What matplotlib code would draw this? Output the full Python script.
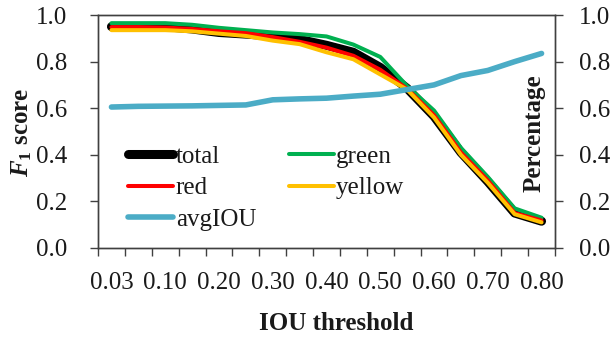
import numpy as np
import matplotlib
matplotlib.use("Agg")
import matplotlib.pyplot as plt

categories = ["0.03", "0.05", "0.10", "0.15", "0.20", "0.25", "0.30", "0.35", "0.40",
              "0.45", "0.50", "0.55", "0.60", "0.65", "0.70", "0.75", "0.80"]
total = [0.950, 0.950, 0.950, 0.940, 0.925, 0.918, 0.910, 0.895, 0.870, 0.840, 0.775,
         0.685, 0.565, 0.410, 0.285, 0.150, 0.115]
green = [0.965, 0.965, 0.965, 0.958, 0.945, 0.935, 0.925, 0.918, 0.908, 0.873, 0.820,
         0.695, 0.590, 0.430, 0.305, 0.170, 0.130]
red = [0.948, 0.948, 0.946, 0.940, 0.930, 0.922, 0.905, 0.885, 0.860, 0.825, 0.765,
       0.683, 0.570, 0.410, 0.290, 0.150, 0.118]
yellow = [0.935, 0.935, 0.935, 0.930, 0.920, 0.910, 0.890, 0.875, 0.840, 0.810, 0.745,
          0.680, 0.560, 0.400, 0.280, 0.145, 0.110]
avgIOU = [0.605, 0.608, 0.609, 0.610, 0.612, 0.614, 0.636, 0.640, 0.643, 0.652, 0.660,
          0.680, 0.700, 0.740, 0.762, 0.800, 0.835]
yticks = [0.0, 0.2, 0.4, 0.6, 0.8, 1.0]

plt.rcParams['font.family'] = ['Liberation Serif', 'DejaVu Serif']
plt.rcParams['mathtext.fontset'] = 'custom'
plt.rcParams['mathtext.it'] = 'Liberation Serif:italic:bold'
plt.rcParams['mathtext.rm'] = 'Liberation Serif:bold'

FS = 18
TXT = '#1a1a1a'
SP = '#404040'

fig = plt.figure(figsize=(6.13, 3.39), dpi=100)
ax = fig.add_axes([98/613, 1-248/339, (555-98)/613, (248-15)/339])
x = np.arange(len(categories))

l_total, = ax.plot(x, total, color='black', lw=6.5, solid_capstyle='round', solid_joinstyle='round', label='total', zorder=2)
l_green, = ax.plot(x, green, color='#00B050', lw=2.9, solid_capstyle='round', label='green', zorder=3)
l_red, = ax.plot(x, red, color='#FF0000', lw=2.9, solid_capstyle='round', label='red', zorder=4)
l_yellow, = ax.plot(x, yellow, color='#FFC000', lw=2.9, solid_capstyle='round', label='yellow', zorder=5)

ax2 = ax.twinx()
l_avg, = ax2.plot(x, avgIOU, color='#4BACC6', lw=4.0, solid_capstyle='round', label='avgIOU')

for a in (ax, ax2):
    a.set_xlim(-0.5, len(categories) - 0.5)
    a.set_ylim(0, 1)
    a.set_yticks(yticks)
    for s in a.spines.values():
        s.set_color(SP)
        s.set_linewidth(1.0)

ax.set_yticklabels([f"{v:.1f}" for v in yticks], fontsize=FS, color=TXT)
ax2.set_yticklabels([f"{v:.1f}" for v in yticks], fontsize=FS, color=TXT)
ax.tick_params(axis='y', direction='out', length=6, width=1, color=SP, pad=16)
ax2.tick_params(axis='y', direction='out', length=6, width=1, color=SP, pad=11)

ax.set_xticks(x[::2])
ax.set_xticklabels(categories[::2], fontsize=FS, color=TXT)
ax.set_xticks(np.arange(-0.5, len(categories), 1), minor=True)
ax.tick_params(axis='x', which='major', length=0, pad=17)
ax.tick_params(axis='x', which='minor', direction='out', length=6, width=1, color=SP)

handles = [l_total, l_red, l_avg, l_green, l_yellow]
leg = ax.legend(handles, [h.get_label() for h in handles], ncol=2, frameon=False,
                fontsize=FS, loc='upper left', bbox_to_anchor=(0.066, 0.44),
                borderaxespad=0, borderpad=0, handlelength=1.8, handletextpad=0.1,
                columnspacing=1.3, labelspacing=0.36)
for t in leg.get_texts():
    t.set_color(TXT)
leg.set_zorder(10)

fig.text(336/613, 1-323/339, 'IOU threshold', fontsize=FS, fontweight='bold',
         ha='center', va='center', color=TXT)
fig.text(22/613, 1-132/339, r'$\mathit{F_1}$ score', fontsize=FS, fontweight='bold',
         rotation=90, ha='center', va='center', color=TXT)
fig.text(534/613, 1-133/339, 'Percentage', fontsize=FS, fontweight='bold',
         rotation=90, ha='center', va='center', color=TXT)

fig.savefig('out.png', dpi=100)
